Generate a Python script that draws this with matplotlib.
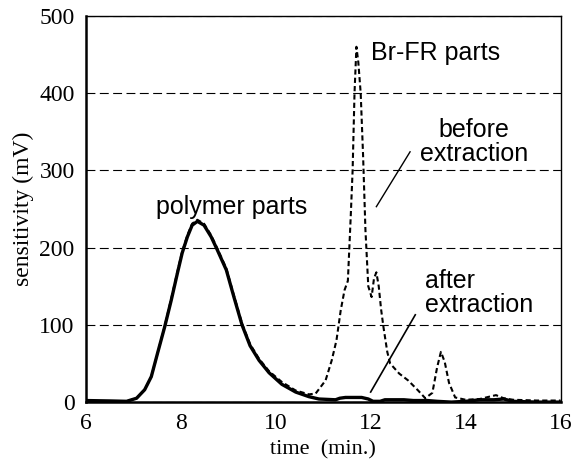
import matplotlib
matplotlib.use("Agg")
import matplotlib.pyplot as plt

# chromatogram (time in min, signal in mV)
t_after = [6.0, 6.5, 6.86, 7.07, 7.24, 7.38, 7.51, 7.66, 7.80, 7.93, 8.03, 8.14, 8.24,
           8.35, 8.49, 8.64, 8.77, 8.96, 9.12, 9.29, 9.46, 9.65, 9.86, 10.13, 10.42, 10.70,
           10.91, 11.26, 11.35, 11.47, 11.81, 11.95, 12.05, 12.2, 12.3, 12.7, 12.9, 13.2,
           13.4, 13.7, 14.0, 14.3, 14.6, 14.8, 15.0, 15.5, 16.0]
v_after = [2, 1.5, 1, 5, 16, 33, 63, 97, 132, 167, 193, 214, 229,
           234, 229, 214, 197, 171, 136, 100, 73, 54, 38, 23, 13, 7,
           4, 3, 5, 6, 6, 4, 1, 1, 3, 3, 2, 2,
           1, 0, 1, 3, 3, 4, 1, 0, 0]

t_before = [6.0, 6.5, 6.86, 7.07, 7.24, 7.38, 7.51, 7.66, 7.80, 7.93, 8.03, 8.14, 8.24,
            8.35, 8.49, 8.64, 8.77, 8.96, 9.12, 9.29, 9.46, 9.65, 9.86, 10.13, 10.42,
            10.70, 10.84, 11.05, 11.18, 11.28, 11.37, 11.45, 11.52, 11.58, 11.62, 11.66,
            11.7, 11.74, 11.79, 11.84, 11.89, 11.95, 12.02, 12.07, 12.12, 12.17, 12.22,
            12.27, 12.35, 12.41, 12.6, 12.79, 13.0, 13.15, 13.3, 13.4, 13.48, 13.56, 13.65,
            13.78, 14.0, 14.3, 14.5, 14.64, 14.8, 15.0, 15.5, 16.0]
v_before = [1, 1, 1, 5, 16, 33, 63, 98, 134, 169, 195, 216, 231,
            236, 231, 216, 199, 173, 138, 102, 75, 56, 40, 26, 15,
            10, 11, 28, 54, 80, 119, 145, 157, 240, 300, 400,
            460, 440, 400, 320, 223, 150, 136, 160, 168, 150, 120,
            97, 65, 50, 37, 28, 15, 5, 12, 45, 65, 52, 25,
            6, 3, 4, 7, 9, 5, 3, 2, 2]

xticks = [6, 8, 10, 12, 14, 16]
yticks = [0, 100, 200, 300, 400, 500]

fig = plt.figure(figsize=(5.72, 4.67), dpi=100)
ax = fig.add_axes([0.150, 0.139, 0.830, 0.827])

ax.plot(t_before, v_before, color='black', lw=1.5, ls=(0, (2.5, 1.5)), zorder=3)
ax.plot(t_after, v_after, color='black', lw=2.4, zorder=4)

ax.set_xlim(6, 16)
ax.set_ylim(0, 500)
ax.set_xticks(xticks)
ax.set_yticks(yticks)
serif = {'family': 'Liberation Serif', 'size': 17}
ax.set_xticklabels([str(x) for x in xticks], fontdict=serif)
ax.set_yticklabels([str(y) for y in yticks], fontdict=serif)
ax.tick_params(length=0, pad=8)

ax.yaxis.grid(True, color='black', lw=0.8, ls=(0, (8, 4)))
ax.set_axisbelow(True)

for s in ['left', 'bottom']:
    ax.spines[s].set_linewidth(1.8)
for s in ['top', 'right']:
    ax.spines[s].set_linewidth(1.0)

ax.set_xlabel('time  (min.)', fontdict={'family': 'Liberation Serif', 'size': 16}, labelpad=4)
ax.set_ylabel('sensitivity (mV)', fontdict={'family': 'Liberation Serif', 'size': 17}, labelpad=4)

sans = {'family': 'Liberation Sans', 'size': 18}
ax.text(9.08, 253, 'polymer parts', ha='center', va='center', fontdict=sans)
ax.text(12.0, 452, 'Br-FR parts', ha='left', va='center', fontdict=sans)
ax.text(14.18, 337, 'before\nextraction', ha='center', va='center', multialignment='center',
        linespacing=1.0, fontdict=sans)
ax.text(13.15, 141, 'after\nextraction', ha='left', va='center', linespacing=1.0, fontdict=sans)

# pointer lines
ax.plot([12.12, 12.83], [253, 324], color='black', lw=1.0)
ax.plot([12.00, 12.94], [13, 113], color='black', lw=1.2)

fig.savefig('out.png', dpi=100)
